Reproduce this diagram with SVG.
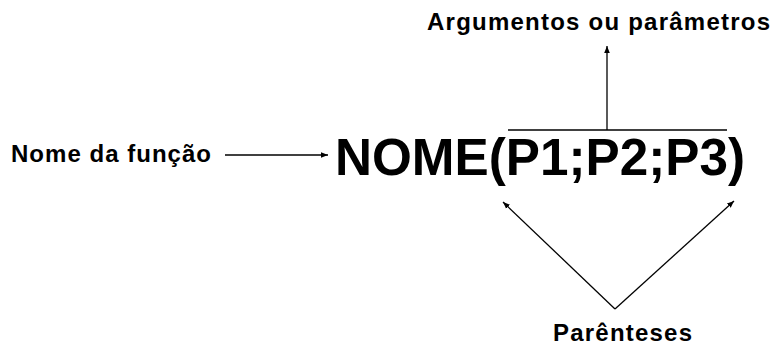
<svg xmlns="http://www.w3.org/2000/svg" width="776" height="346" viewBox="0 0 776 346">
<style>
.lbl{font-family:"Liberation Sans",Arial,sans-serif;font-weight:bold;font-size:24px;fill:#000}
.big{font-family:"Liberation Sans",Arial,sans-serif;font-weight:bold;font-size:52px;fill:#000}
.ln{stroke:#000;stroke-width:1.3;fill:none}
</style>
<defs>
<marker id="ah" viewBox="0 0 10 10" refX="10" refY="5" markerWidth="7" markerHeight="7" markerUnits="userSpaceOnUse" orient="auto">
<path d="M0,1 L10,5 L0,9 Z" fill="#000"/>
</marker>
</defs>
<rect width="776" height="346" fill="#fff"/>
<g id="nome-funcao"><text class="lbl" x="11" y="162" textLength="200" lengthAdjust="spacing">Nome da função</text></g>
<g id="formula"><text class="big" x="335" y="175" textLength="410" lengthAdjust="spacingAndGlyphs">NOME(P1;P2;P3)</text></g>
<g id="argumentos"><text class="lbl" x="427" y="30" textLength="343" lengthAdjust="spacing">Argumentos ou parâmetros</text></g>
<g id="parenteses"><text class="lbl" x="553" y="341" textLength="139" lengthAdjust="spacing">Parênteses</text></g>
<g id="connectors">
<line class="ln" x1="225" y1="155" x2="328" y2="155" marker-end="url(#ah)"/>
<line class="ln" x1="508" y1="130" x2="727" y2="130"/>
<line class="ln" x1="607" y1="130" x2="607" y2="46" marker-end="url(#ah)"/>
<line class="ln" x1="615" y1="309" x2="503" y2="202" marker-end="url(#ah)"/>
<line class="ln" x1="615" y1="309" x2="734" y2="201" marker-end="url(#ah)"/>
</g>
</svg>
